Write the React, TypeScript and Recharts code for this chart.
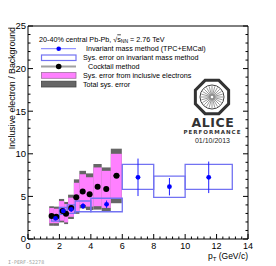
import React from 'react';
import { ComposedChart, XAxis, YAxis, Scatter, ErrorBar, ReferenceArea } from 'recharts';

// Cocktail method (black points)
const ckX = [1.5, 1.8, 2.2, 2.42, 2.75, 3.07, 3.48, 3.92, 4.43, 4.98, 5.63];
const ckY = [2.7, 2.6, 3.3, 2.95, 3.65, 4.9, 5.58, 5.26, 6.14, 5.87, 7.42];
const ckXErr = [0.1, 0.12, 0.12, 0.1, 0.12, 0.15, 0.15, 0.15, 0.15, 0.15, 0.2];
const ckBinLo = [1.35, 1.65, 1.97, 2.3, 2.55, 2.92, 3.27, 3.69, 4.16, 4.69, 5.27];
const ckBinHi = [1.65, 1.97, 2.3, 2.55, 2.92, 3.27, 3.69, 4.16, 4.69, 5.27, 5.97];
// Sys. error from inclusive electrons (pink)
const ckPinkLo = [1.85, 1.85, 2.15, 1.95, 2.6, 3.25, 4.0, 3.8, 3.85, 3.65, 4.7];
const ckPinkHi = [3.65, 3.55, 4.45, 4.1, 4.85, 6.6, 7.6, 7.25, 8.4, 8.0, 10.0];
// Total sys. error (gray)
const ckTotLo = [1.55, 1.55, 1.95, 1.75, 2.35, 2.95, 3.6, 3.4, 3.45, 3.25, 4.2];
const ckTotHi = [3.85, 3.8, 4.7, 4.35, 5.2, 7.0, 8.0, 7.7, 8.8, 8.4, 10.6];

// Invariant mass method (TPC+EMCal) (blue points)
const imX = [1.75, 2.25, 2.75, 3.5, 5, 7, 9, 11.5];
const imY = [2.43, 3.29, 3.48, 3.87, 4.07, 7.24, 6.14, 7.24];
const imStat = [0.15, 0.2, 0.3, 0.35, 0.45, 2.2, 1.02, 1.85];
const imBinLo = [1.5, 2, 2.5, 3, 4, 6, 8, 10];
const imBinHi = [2, 2.5, 3, 4, 6, 8, 10, 13];
const imSysLo = [2.1, 2.9, 3.0, 3.2, 3.2, 5.83, 4.89, 5.83];
const imSysHi = [2.75, 3.7, 4.0, 4.46, 4.78, 8.77, 7.39, 8.77];

const xMajor = [0, 2, 4, 6, 8, 10, 12, 14];
const yMajor = [0, 5, 10, 15, 20, 25];
const xTicks = Array.from({ length: 36 }, (_, i) => +(i * 0.4).toFixed(1));
const yTicks = Array.from({ length: 26 }, (_, i) => i);

const ckData = ckX.map((x, i) => ({ x, y: ckY[i], ex: ckXErr[i] }));
const imData = imX.map((x, i) => ({ x, y: imY[i], ey: imStat[i] }));

const FONT = '"Liberation Sans", Arial, Helvetica, sans-serif';
const PINK = '#ff80ff';
const GRAY = '#666666';
const BOXBLUE = '#7272f2';

const isMajor = (v: number, list: number[]) => list.some((m) => Math.abs(m - v) < 1e-6);

const XTick = (props: any) => {
  const { x, y, payload, top } = props;
  const v = payload.value;
  const major = isMajor(v, xMajor);
  const len = major ? 5 : 2.5;
  return (
    <g>
      <line x1={x} x2={x} y1={y} y2={top ? y + len : y - len} stroke="#000" strokeWidth={1} />
      {!top && major && (
        <text x={x} y={y + 9.5} textAnchor="middle" fontSize={9} fontFamily={FONT} fill="#000">
          {v}
        </text>
      )}
    </g>
  );
};

const YTick = (props: any) => {
  const { x, y, payload, right } = props;
  const v = payload.value;
  const major = isMajor(v, yMajor);
  const len = major ? 5 : 2.5;
  return (
    <g>
      <line x1={x} x2={right ? x - len : x + len} y1={y} y2={y} stroke="#000" strokeWidth={1} />
      {!right && major && (
        <text x={x - 2} y={y + 3.3} textAnchor="end" fontSize={9.5} fontFamily={FONT} fill="#000">
          {v}
        </text>
      )}
    </g>
  );
};

const BlackDot = (p: any) => <circle cx={p.cx} cy={p.cy} r={3} fill="#000" />;
const BlueDot = (p: any) => <circle cx={p.cx} cy={p.cy} r={2.4} fill="#0000ff" />;

const Logo = () => {
  const cx = 212;
  const cy = 97;
  const R = 18;
  const pts = Array.from({ length: 8 }, (_, i) => {
    const a = Math.PI / 8 + (i * Math.PI) / 4;
    return `${cx + R * Math.cos(a)},${cy + R * Math.sin(a)}`;
  }).join(' ');
  const rays = Array.from({ length: 24 }, (_, i) => {
    const a = (i * Math.PI) / 12;
    return (
      <line
        key={i}
        x1={cx + 1.5 * Math.cos(a)}
        y1={cy + 1.5 * Math.sin(a)}
        x2={cx + 11 * Math.cos(a)}
        y2={cy + 11 * Math.sin(a)}
        stroke="#555"
        strokeWidth={0.6}
      />
    );
  });
  return (
    <g>
      <polygon points={pts} fill="#fff" stroke="#333" strokeWidth={3} />
      <circle cx={cx} cy={cy} r={12} fill="none" stroke="#444" strokeWidth={1} />
      {rays}
      <text x={213} y={127} textAnchor="middle" fontSize={12.5} fontWeight="bold" fontFamily='"DejaVu Sans", sans-serif' fill="#333" letterSpacing={0.6}>
        ALICE
      </text>
      <text x={212.5} y={134} textAnchor="middle" fontSize={5.5} fontWeight="bold" fontFamily='"DejaVu Sans", sans-serif' fill="#333" letterSpacing={1}>
        PERFORMANCE
      </text>
      <text x={212.5} y={143} textAnchor="middle" fontSize={7} fontFamily={FONT} fill="#222">
        01/10/2013
      </text>
    </g>
  );
};

const Overlay = () => (
  <svg width={276} height={266} style={{ position: 'absolute', left: 0, top: 0, pointerEvents: 'none' }}>
    {/* legend */}
    <text x={39} y={41.5} fontSize={7.2} fontFamily={FONT} fill="#000">
      20-40% central Pb-Pb, √
      <tspan style={{ textDecoration: 'overline' }}>s</tspan>
      <tspan fontSize={5} dy={1.5}>NN</tspan>
      <tspan dy={-1.5}> = 2.76 TeV</tspan>
    </text>
    <line x1={41} x2={76} y1={48.7} y2={48.7} stroke="#7d7dff" strokeWidth={1} />
    <circle cx={58.7} cy={48.7} r={2.3} fill="#0000ff" />
    <text x={86} y={51.2} fontSize={7.2} fontFamily={FONT} fill="#000">Invariant mass method (TPC+EMCal)</text>
    <rect x={41.5} y={55} width={34.5} height={5.5} fill="#fff" stroke={BOXBLUE} strokeWidth={1.2} />
    <text x={83} y={60} fontSize={7.2} fontFamily={FONT} fill="#000">Sys. error on invariant mass method</text>
    <line x1={41} x2={76} y1={66.5} y2={66.5} stroke="#a0a0a0" strokeWidth={1.8} />
    <circle cx={58.7} cy={66.5} r={2.8} fill="#000" />
    <text x={88} y={69} fontSize={7.2} fontFamily={FONT} fill="#000">Cocktail method</text>
    <rect x={41.5} y={72.5} width={34.5} height={5.8} fill={PINK} stroke="#a070a0" strokeWidth={0.8} />
    <text x={83} y={77.8} fontSize={7.2} fontFamily={FONT} fill="#000">Sys. error from inclusive electrons</text>
    <rect x={41.5} y={81.2} width={34.5} height={5.8} fill={GRAY} stroke="#444" strokeWidth={0.8} />
    <text x={83} y={86.5} fontSize={7.2} fontFamily={FONT} fill="#000">Total sys. error</text>

    <Logo />

    {/* axis titles */}
    <text x={15} y={27} transform="rotate(-90 15 27)" textAnchor="end" fontSize={8.8} fontFamily={FONT} fill="#000">
      Inclusive electron / Background
    </text>
    <text x={248} y={259} textAnchor="end" fontSize={8.5} fontFamily={FONT} fill="#000">
      p<tspan fontSize={6} dy={1.5}>T</tspan>
      <tspan dy={-1.5}> (GeV/c)</tspan>
    </text>
    <text x={2} y={264} fontSize={5} fontFamily='"DejaVu Sans Mono", monospace' fill="#a0a0a0">
      ALI-PERF-52278
    </text>
  </svg>
);

export default function App() {
  return (
    <div style={{ position: 'relative', width: 276, height: 266, marginLeft: -8, marginTop: -8, background: '#fff' }}>
      <ComposedChart width={276} height={266} margin={{ top: 25, right: 27, bottom: 26, left: 27 }}>
        <XAxis
          xAxisId={0}
          type="number"
          dataKey="x"
          domain={[0, 14]}
          ticks={xTicks}
          interval={0}
          height={1}
          tickSize={0}
          tickMargin={0}
          tickLine={false}
          axisLine={{ stroke: '#000', strokeWidth: 1 }}
          tick={(p: any) => <XTick {...p} />}
          allowDataOverflow
        />
        <XAxis
          xAxisId="top"
          orientation="top"
          type="number"
          domain={[0, 14]}
          ticks={xTicks}
          interval={0}
          height={1}
          tickSize={0}
          tickMargin={0}
          tickLine={false}
          axisLine={{ stroke: '#000', strokeWidth: 1 }}
          tick={(p: any) => <XTick {...p} top />}
          allowDataOverflow
        />
        <YAxis
          yAxisId={0}
          type="number"
          dataKey="y"
          domain={[0, 25]}
          ticks={yTicks}
          interval={0}
          width={1}
          tickSize={0}
          tickMargin={0}
          tickLine={false}
          axisLine={{ stroke: '#000', strokeWidth: 1 }}
          tick={(p: any) => <YTick {...p} />}
          allowDataOverflow
        />
        <YAxis
          yAxisId="right"
          orientation="right"
          type="number"
          domain={[0, 25]}
          ticks={yTicks}
          interval={0}
          width={1}
          tickSize={0}
          tickMargin={0}
          tickLine={false}
          axisLine={{ stroke: '#000', strokeWidth: 1 }}
          tick={(p: any) => <YTick {...p} right />}
          allowDataOverflow
        />

        {ckX.map((_, i) => (
          <ReferenceArea
            key={'tot' + i}
            x1={ckBinLo[i]}
            x2={ckBinHi[i]}
            y1={ckTotLo[i]}
            y2={ckTotHi[i]}
            fill={GRAY}
            fillOpacity={1}
            stroke="none"
          />
        ))}
        {ckX.map((_, i) => (
          <ReferenceArea
            key={'pink' + i}
            x1={ckBinLo[i]}
            x2={ckBinHi[i]}
            y1={ckPinkLo[i]}
            y2={ckPinkHi[i]}
            fill={PINK}
            fillOpacity={1}
            stroke="none"
          />
        ))}
        {imX.map((_, i) => (
          <ReferenceArea
            key={'im' + i}
            x1={imBinLo[i]}
            x2={imBinHi[i]}
            y1={imSysLo[i]}
            y2={imSysHi[i]}
            fill="none"
            fillOpacity={0}
            stroke={BOXBLUE}
            strokeWidth={1.3}
          />
        ))}

        <Scatter data={ckData} dataKey="y" isAnimationActive={false} shape={BlackDot}>
          <ErrorBar dataKey="ex" direction="x" width={0} stroke="#000" strokeWidth={1} />
        </Scatter>
        <Scatter data={imData} dataKey="y" isAnimationActive={false} shape={BlueDot}>
          <ErrorBar dataKey="ey" direction="y" width={0} stroke="#2020ff" strokeWidth={1} />
        </Scatter>
      </ComposedChart>
      <Overlay />
    </div>
  );
}
